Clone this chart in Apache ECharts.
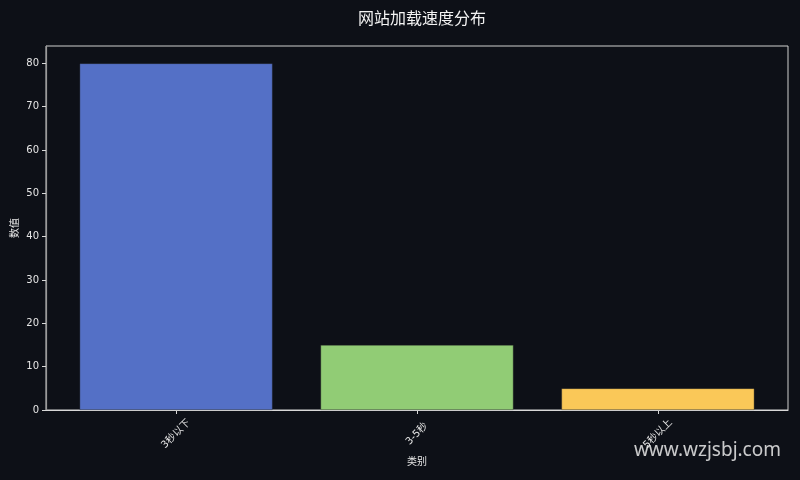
<!DOCTYPE html>
<html>
<head>
<meta charset="utf-8">
<script src="https://cdn.jsdelivr.net/npm/echarts@6/dist/echarts.min.js"></script>
<style>
html,body{margin:0;padding:0;background:#0d1017;}
#c{width:800px;height:480px;}
</style>
</head>
<body>
<div id="c"></div>
<script>
const categories = ['3秒以下', '3-5秒', '5秒以上'];
const values = [80, 15, 5];
const colors = ['#5470c6', '#91cc75', '#fac858'];
const yTicks = [0, 10, 20, 30, 40, 50, 60, 70, 80];

const chart = echarts.init(document.getElementById('c'));
const font = '"DejaVu Sans", "Noto Sans CJK SC", sans-serif';
chart.setOption({
  backgroundColor: '#0d1017',
  animation: false,
  title: {
    text: '网站加载速度分布',
    left: 417, top: 7, textAlign: 'center',
    textStyle: {color: '#f2f2f2', fontSize: 16, fontWeight: 'normal', fontFamily: font}
  },
  grid: {
    left: 46, right: 12, top: 46, bottom: 70,
    containLabel: false, outerBoundsMode: 'none',
    show: true, borderColor: '#d0d0d0', borderWidth: 1, backgroundColor: 'transparent'
  },
  xAxis: {
    type: 'value', min: -0.54, max: 2.54,
    name: '类别', nameLocation: 'middle', nameGap: 47, nameMoveOverlap: false,
    nameTextStyle: {color: '#e6e6e6', fontSize: 10, fontFamily: font},
    axisLine: {show: true, onZero: false, lineStyle: {color: '#d8d8d8', width: 1.2}},
    axisTick: {show: true, customValues: [0, 1, 2], length: 4, lineStyle: {color: '#d8d8d8'}},
    axisLabel: {
      customValues: [0, 1, 2],
      formatter: v => categories[Math.round(v)],
      rotate: 45, align: 'center', verticalAlign: 'middle', margin: 24,
      color: '#e6e6e6', fontSize: 10, fontFamily: font
    },
    splitLine: {show: false}
  },
  yAxis: {
    type: 'value', min: 0, max: 84,
    name: '数值', nameLocation: 'middle', nameGap: 26, nameMoveOverlap: false,
    nameTextStyle: {color: '#e6e6e6', fontSize: 10, fontFamily: font},
    axisLine: {show: true, onZero: false, lineStyle: {color: '#9a9a9a', width: 1.2}},
    axisTick: {show: true, customValues: yTicks, length: 4, lineStyle: {color: '#d8d8d8'}},
    axisLabel: {customValues: yTicks, color: '#e6e6e6', fontSize: 10, margin: 7, fontFamily: font},
    splitLine: {show: false}
  },
  series: [{
    type: 'bar',
    barWidth: 193,
    data: values.map((v, i) => ({
      value: [i, v],
      itemStyle: {color: colors[i], borderColor: 'rgba(40,40,40,0.6)', borderWidth: 0.6}
    }))
  }],
  graphic: [{
    type: 'text', right: 19, bottom: 20, z: 100,
    style: {text: 'www.wzjsbj.com', fill: 'rgba(235,235,235,0.85)', fontSize: 19, fontFamily: '"Noto Sans", "DejaVu Sans", sans-serif'}
  }]
});
</script>
</body>
</html>
